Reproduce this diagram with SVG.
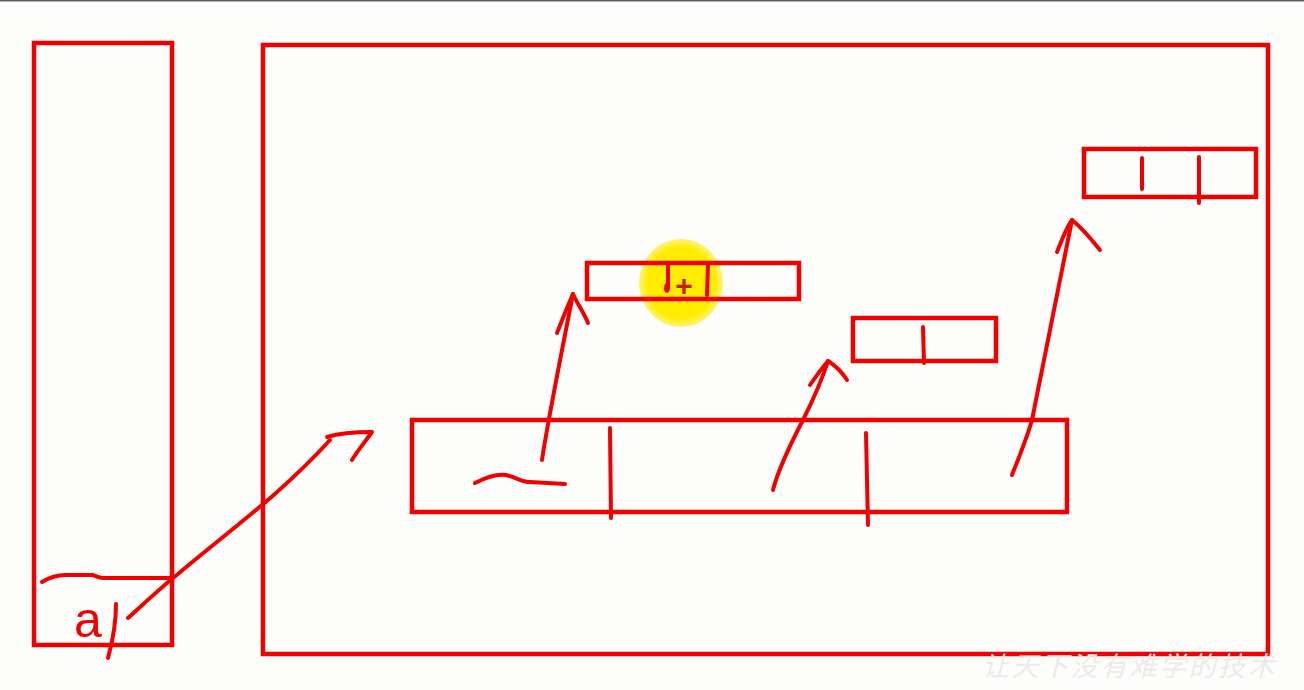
<svg xmlns="http://www.w3.org/2000/svg" width="1304" height="690" viewBox="0 0 1304 690">
<defs>
<style>
.box{fill:none;stroke:#f20000;stroke-width:4.5}
.ink{fill:none;stroke:#f20000;stroke-width:4;stroke-linecap:round;stroke-linejoin:round}
.hand{font-family:"Liberation Sans",Arial,sans-serif;fill:#f20000}
.wm{font-family:"Noto Sans CJK SC","Noto Sans CJK TC",sans-serif;fill:#ebebeb;font-style:italic}
</style>
<radialGradient id="hl" cx="0.5" cy="0.5" r="0.5">
<stop offset="0.8" stop-color="#ffec00"/>
<stop offset="1" stop-color="#fff27a"/>
</radialGradient>
</defs>
<rect x="0" y="0" width="1304" height="690" fill="#fdfefc"/>
<rect x="0" y="0" width="1304" height="1.5" fill="#5a6068"/>

<g id="stack">
<rect class="box" x="34" y="43" width="138" height="602"/>
<path class="ink" d="M42,582 C50,577 58,575 66,575 L92,575 C97,576 99,578 104,578 L172,578"/>
<text class="hand" x="74" y="637" font-size="50">a</text>
<path class="ink" d="M116,604 C116,620 113,640 108,658"/>
</g>

<g id="heap">
<rect class="box" x="263" y="45" width="1005" height="609"/>
</g>

<g id="array">
<rect class="box" x="412" y="420" width="655" height="92"/>
<path class="ink" d="M610,428 L611,518"/>
<path class="ink" d="M866,433 L868,525"/>
<path class="ink" d="M475,483 C485,478 495,474 505,475 C515,476 520,482 530,482 L565,484"/>
</g>

<g id="obj1">
<ellipse cx="681" cy="283" rx="42" ry="44" fill="url(#hl)"/>
<rect class="box" x="587" y="263" width="212" height="36"/>
<path class="ink" d="M668,264 L668,288"/>
<ellipse cx="667" cy="288" rx="3" ry="5" fill="#f20000"/>
<path class="ink" d="M708,264 L707,295"/>
<text x="684" y="296" font-size="30" font-family="Liberation Sans,sans-serif" fill="#c81e00" text-anchor="middle" font-weight="bold">+</text>
</g>

<g id="obj2">
<rect class="box" x="853" y="318" width="143" height="43"/>
<path class="ink" d="M923,327 L924,363"/>
</g>

<g id="obj3">
<rect class="box" x="1084" y="149" width="172" height="48"/>
<path class="ink" d="M1142,158 L1142,189"/>
<path class="ink" d="M1199,157 L1199,203"/>
</g>

<g id="connectors">
<path class="ink" d="M128,618 C150,598 165,584 178,574 C230,530 280,495 330,440"/>
<path class="ink" d="M327,437 C340,433 355,432 372,432 C365,442 358,450 352,460"/>
<path class="ink" d="M542,460 C548,420 560,360 573,294"/>
<path class="ink" d="M557,333 C563,318 568,305 573,294 C578,305 584,313 588,323"/>
<path class="ink" d="M773,490 C778,470 790,445 803,420 C813,400 822,380 828,361"/>
<path class="ink" d="M810,385 C816,376 822,368 828,361 C836,366 842,372 847,380"/>
<path class="ink" d="M1012,475 C1020,455 1028,435 1032,420 C1045,355 1058,290 1072,220"/>
<path class="ink" d="M1057,252 C1062,240 1066,228 1072,220 C1082,228 1092,240 1100,250"/>
</g>

<text class="wm" x="982" y="676" font-size="27" letter-spacing="2.5">让天下没有难学的技术</text>
</svg>
